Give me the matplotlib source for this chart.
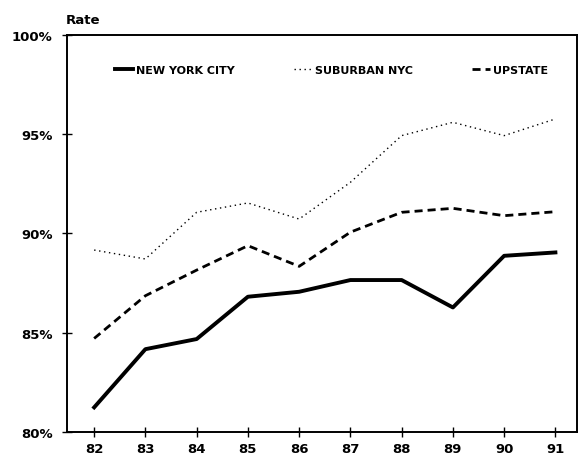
import matplotlib
matplotlib.use("Agg")
import matplotlib.pyplot as plt

years = [82, 83, 84, 85, 86, 87, 88, 89, 90, 91]
year_labels = ['82', '83', '84', '85', '86', '87', '88', '89', '90', '91']
nyc = [81.24, 84.17, 84.68, 86.81, 87.06, 87.65, 87.65, 86.27, 88.87, 89.04]
suburban = [89.16, 88.71, 91.06, 91.53, 90.72, 92.57, 94.92, 95.59, 94.92, 95.76]
upstate = [84.71, 86.86, 88.15, 89.38, 88.34, 90.06, 91.06, 91.26, 90.89, 91.09]
y_ticks = [80, 85, 90, 95, 100]
y_labels = ['80%', '85%', '90%', '95%', '100%']

plt.rcParams['font.family'] = ['DejaVu Sans']
plt.rcParams['font.weight'] = 'bold'

fig = plt.figure(figsize=(5.81, 4.56), dpi=100)
ax = fig.add_axes([0.1153, 0.0504, 0.8777, 0.8713])

ax.plot(years, nyc, color='black', lw=2.8, solid_joinstyle='round', label='NEW YORK CITY')
ax.plot(years, suburban, color='black', lw=1.0, linestyle=(0, (1, 2.6)), label='SUBURBAN NYC')
ax.plot(years, upstate, color='black', lw=2.0, linestyle=(0, (2.9, 1.8)), label='UPSTATE')

ax.set_xlim(81.47, 91.42)
ax.set_ylim(80, 100)
ax.set_xticks(years)
ax.set_xticklabels(year_labels)
ax.set_yticks(y_ticks)
ax.set_yticklabels(y_labels)
ax.tick_params(direction='inout', length=7, width=1, labelsize=9.5)
ax.tick_params(axis='x', pad=4)
ax.tick_params(axis='y', pad=7)
for s in ax.spines.values():
    s.set_linewidth(1.4)

ax.text(-0.003, 1.022, 'Rate', transform=ax.transAxes, fontsize=9.5,
        fontweight='bold', ha='left', va='bottom')

ax.legend(loc='center', bbox_to_anchor=(0.519, 0.911), ncol=3, frameon=False,
          fontsize=8, handlelength=1.6, handletextpad=0.25, columnspacing=5.35,
          borderpad=0)

fig.savefig('out.png', dpi=100)
